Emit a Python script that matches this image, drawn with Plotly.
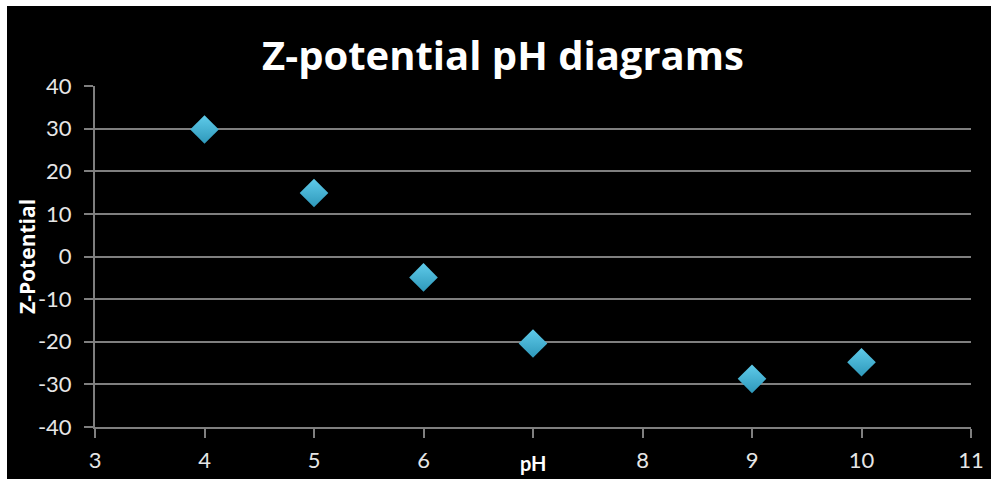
import plotly.graph_objects as go

ph = [4, 5, 6, 7, 9, 10]
zeta = [29.8, 14.9, -4.9, -20.4, -28.7, -24.8]
x_ticks = [3, 4, 5, 6, 7, 8, 9, 10, 11]
x_ticktext = ["3", "4", "5", "6", "", "8", "9", "10", "11"]
y_ticks = [-40, -30, -20, -10, 0, 10, 20, 30, 40]
y_ticktext = ["-40", "-30", "-20", "-10", "0", "10", "20", "30", "40"]

W, H = 991, 479
L, R, T, B = 95, 20, 86, 52
pw, ph_ = W - L - R, H - T - B

def px(x):
    return (x - L) / pw

def py(y):
    return (H - B - y) / ph_

fig = go.Figure()
fig.add_trace(go.Scatter(
    x=ph, y=zeta, mode="markers",
    marker=dict(symbol="diamond", size=22, color="#5FCBEA",
                gradient=dict(type="vertical", color="#2E98BA"),
                line=dict(width=0)),
    showlegend=False, hoverinfo="x+y",
))

grid = "#7f7f7f"
fig.update_layout(
    width=W, height=H,
    margin=dict(l=L, r=R, t=T, b=B),
    paper_bgcolor="white",
    plot_bgcolor="rgba(0,0,0,0)",
    font=dict(family="Lato, 'Open Sans', sans-serif", color="#e6e6e6"),
    title=dict(text="<b>Z-potential pH diagrams</b>", x=503 / W, xanchor="center",
               y=1 - 56 / H, yanchor="middle",
               font=dict(size=40, color="white", family="'Open Sans', sans-serif")),
    xaxis=dict(range=[3, 11], tickvals=x_ticks, ticktext=x_ticktext, automargin=False,
               showgrid=False, zeroline=False, showline=True, linecolor=grid, linewidth=2,
               ticks="outside", ticklen=9, tickwidth=2, tickcolor=grid,
               tickfont=dict(size=22, color="#e6e6e6"), ticklabelstandoff=4),
    yaxis=dict(range=[-40, 40], tickvals=y_ticks, ticktext=y_ticktext, automargin=False,
               showgrid=True, gridcolor=grid, gridwidth=2, zeroline=False,
               showline=True, linecolor=grid, linewidth=2,
               ticks="outside", ticklen=9, tickwidth=2, tickcolor=grid,
               tickfont=dict(size=22, color="#e6e6e6"), ticklabelstandoff=8),
    shapes=[dict(type="rect", xref="paper", yref="paper",
                 x0=px(7), x1=px(W + 5), y0=py(H + 5), y1=py(6),
                 fillcolor="black", line=dict(width=0), layer="below")],
    annotations=[
        dict(text="<b>Z-Potential</b>", x=px(27), y=py(257), xref="paper", yref="paper",
             textangle=-90, showarrow=False, xanchor="center", yanchor="middle",
             font=dict(size=21, color="white", family="'Open Sans', sans-serif")),
        dict(text="<b>pH</b>", x=7, y=py(463), xref="x", yref="paper",
             showarrow=False, xanchor="center", yanchor="middle",
             font=dict(size=20, color="white")),
    ],
)

fig.write_html("out.html")
